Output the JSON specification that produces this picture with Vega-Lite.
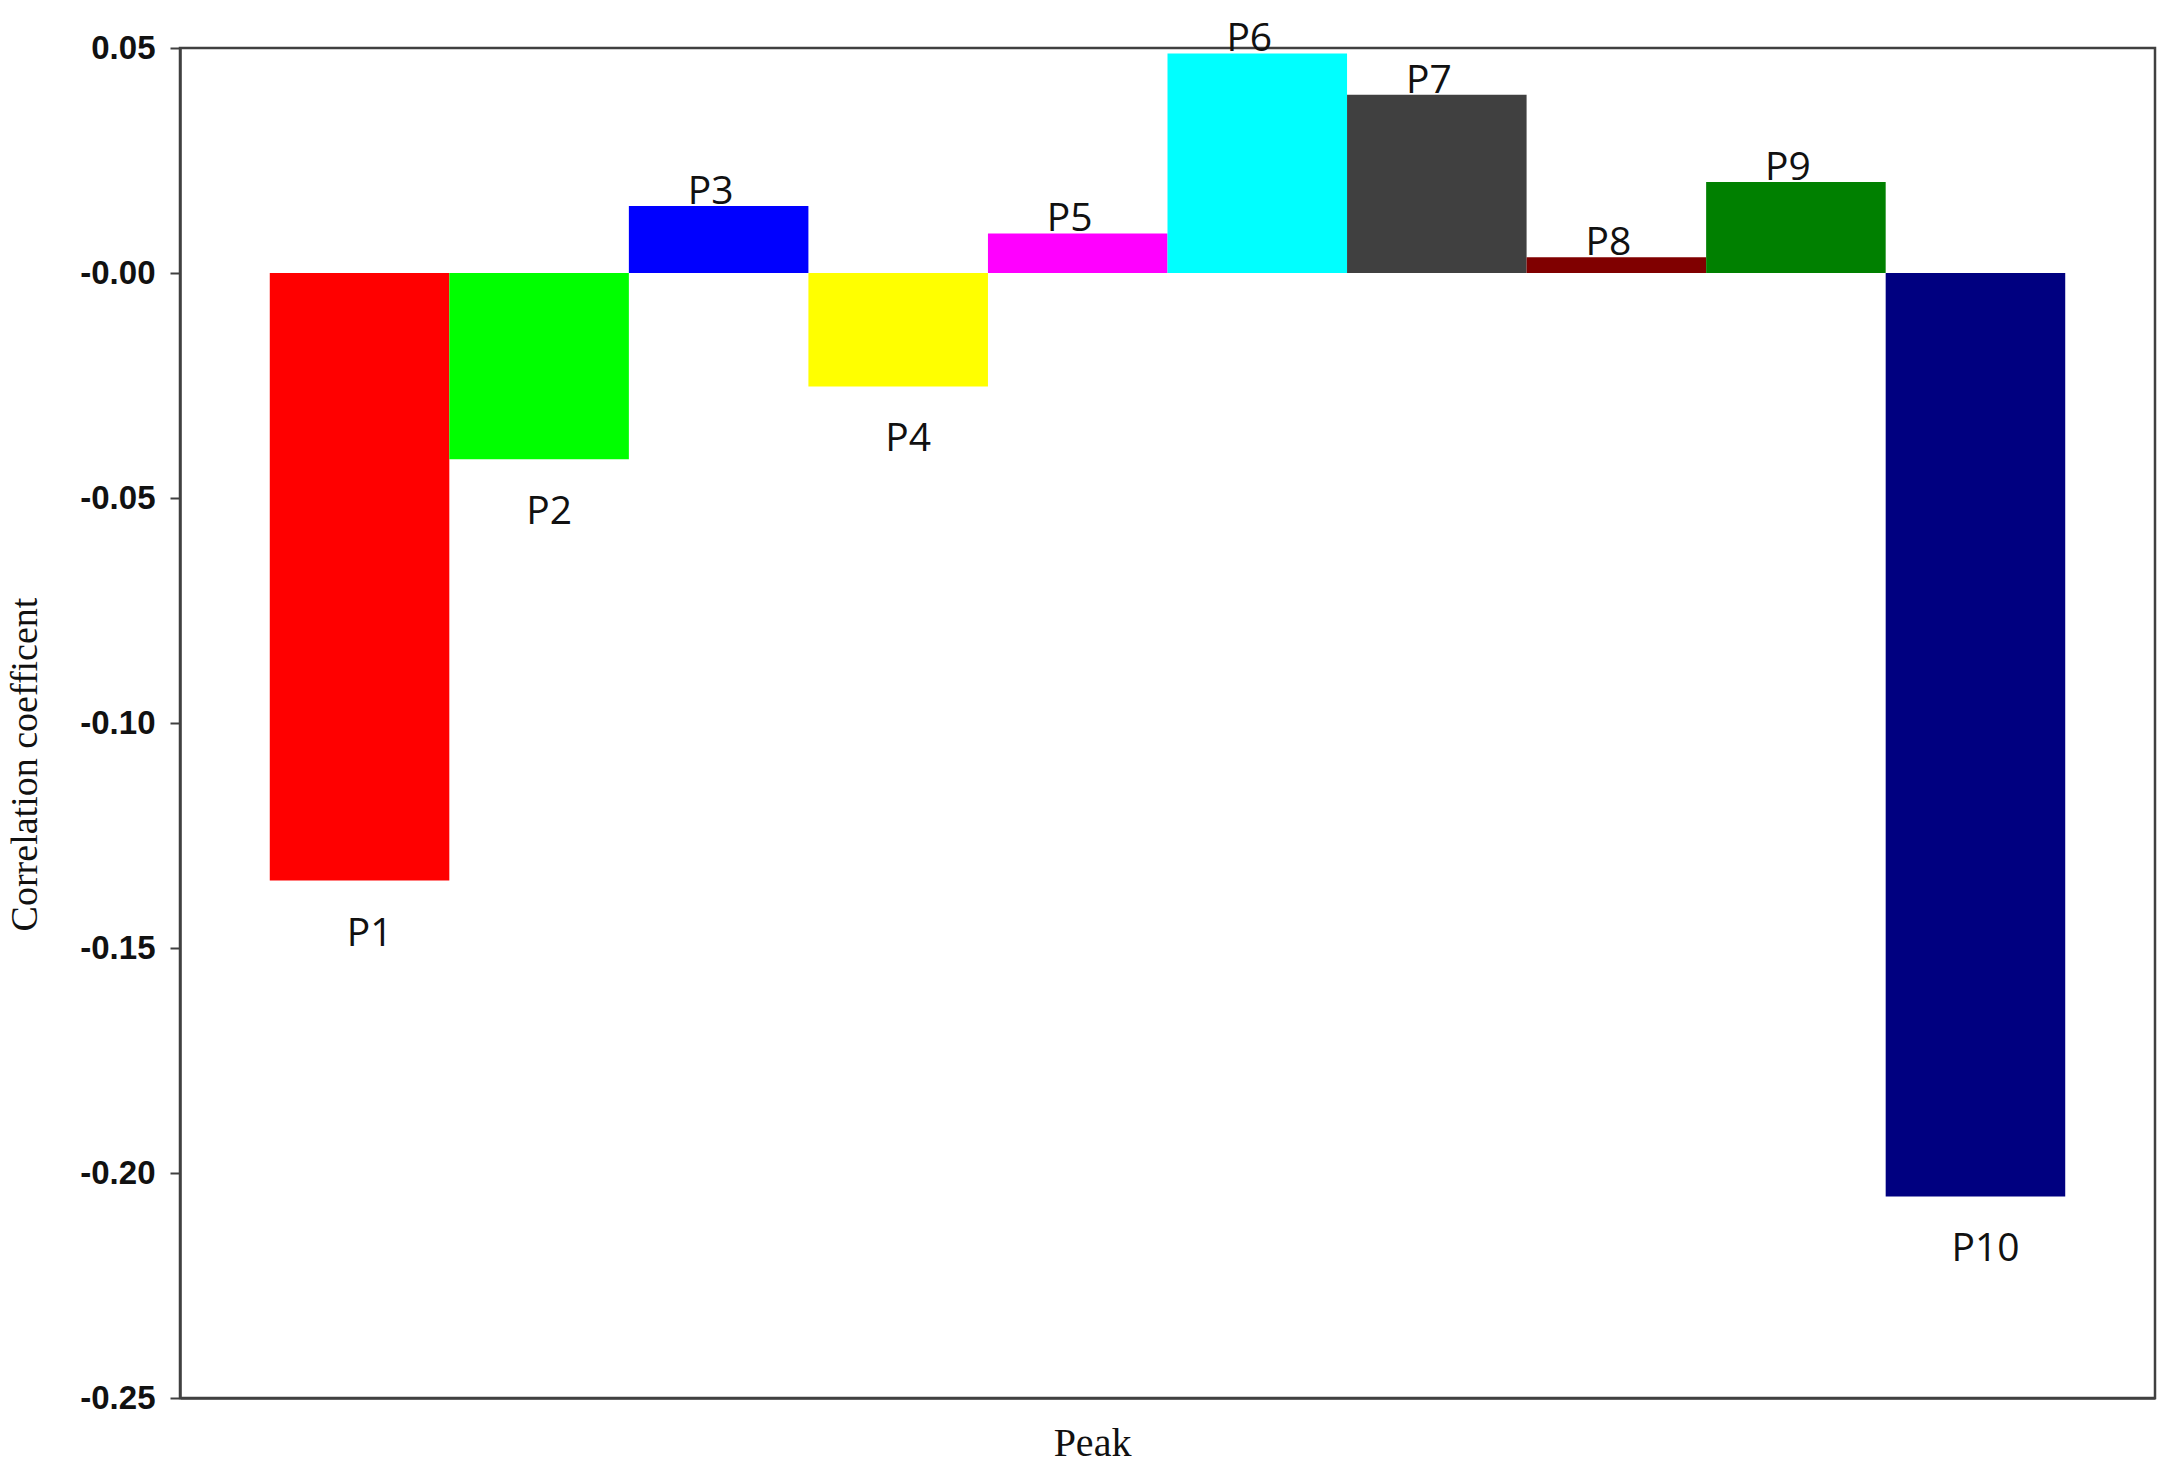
{
  "$schema": "https://vega.github.io/schema/vega-lite/v6.json",
  "autosize": {"type": "none"},
  "width": 1975,
  "height": 1350,
  "padding": {"left": 180, "top": 48, "right": 10, "bottom": 67},
  "background": "white",
  "config": {
    "view": {"stroke": "#404040", "strokeWidth": 2.5},
    "axis": {"grid": false}
  },
  "data": {
    "values": [
      {"peak": "P1", "value": -0.135},
      {"peak": "P2", "value": -0.0414},
      {"peak": "P3", "value": 0.0149},
      {"peak": "P4", "value": -0.0252},
      {"peak": "P5", "value": 0.0088},
      {"peak": "P6", "value": 0.0488},
      {"peak": "P7", "value": 0.0396},
      {"peak": "P8", "value": 0.0035},
      {"peak": "P9", "value": 0.0202},
      {"peak": "P10", "value": -0.2052}
    ]
  },
  "encoding": {
    "x": {
      "field": "peak",
      "type": "nominal",
      "sort": null,
      "scale": {"paddingInner": 0, "paddingOuter": 0.5},
      "axis": {
        "title": "Peak",
        "labels": false,
        "ticks": false,
        "domainColor": "#404040",
        "domainWidth": 2.5,
        "titleFont": "Liberation Serif",
        "titleFontSize": 40,
        "titleFontWeight": "normal",
        "titleColor": "#111111",
        "titleBaseline": "alphabetic",
        "titleAlign": "center",
        "titleX": 912,
        "titleY": 57
      }
    },
    "y": {
      "field": "value",
      "type": "quantitative",
      "scale": {"domain": [-0.25, 0.05], "nice": false, "zero": false},
      "axis": {
        "title": "Correlation coefficent",
        "values": [-0.25, -0.2, -0.15, -0.1, -0.05, 0, 0.05],
        "labelExpr": "datum.value === 0 ? '-0.00' : (datum.value < 0 ? '-' + format(-datum.value, '.2f') : format(datum.value, '.2f'))",
        "labelFont": "Liberation Sans",
        "labelFontWeight": "bold",
        "labelFontSize": 33,
        "labelColor": "#111111",
        "labelPadding": 15,
        "tickSize": 10,
        "tickColor": "#404040",
        "tickWidth": 2,
        "domainColor": "#404040",
        "domainWidth": 2.5,
        "titleFont": "Liberation Serif",
        "titleFontSize": 38,
        "titleFontWeight": "normal",
        "titleColor": "#111111",
        "titleBaseline": "alphabetic",
        "titleAlign": "center",
        "titleAngle": -90,
        "titleX": -144,
        "titleY": 716
      }
    }
  },
  "layer": [
    {
      "mark": {"type": "bar"},
      "encoding": {
        "color": {
          "field": "peak",
          "type": "nominal",
          "scale": {
            "domain": ["P1", "P2", "P3", "P4", "P5", "P6", "P7", "P8", "P9", "P10"],
            "range": ["#FF0000", "#00FF00", "#0000FF", "#FFFF00", "#FF00FF", "#00FFFF", "#404040", "#800000", "#008000", "#000080"]
          },
          "legend": null
        }
      }
    },
    {
      "transform": [{"filter": "datum.value >= 0"}],
      "mark": {"type": "text", "font": "Open Sans", "fontSize": 39, "color": "#111111", "baseline": "alphabetic", "align": "center", "dy": -2, "dx": -8},
      "encoding": {"text": {"field": "peak"}}
    },
    {
      "transform": [{"filter": "datum.value < 0"}],
      "mark": {"type": "text", "font": "Open Sans", "fontSize": 39, "color": "#111111", "baseline": "alphabetic", "align": "center", "dy": 65, "dx": 10},
      "encoding": {"text": {"field": "peak"}}
    }
  ]
}
